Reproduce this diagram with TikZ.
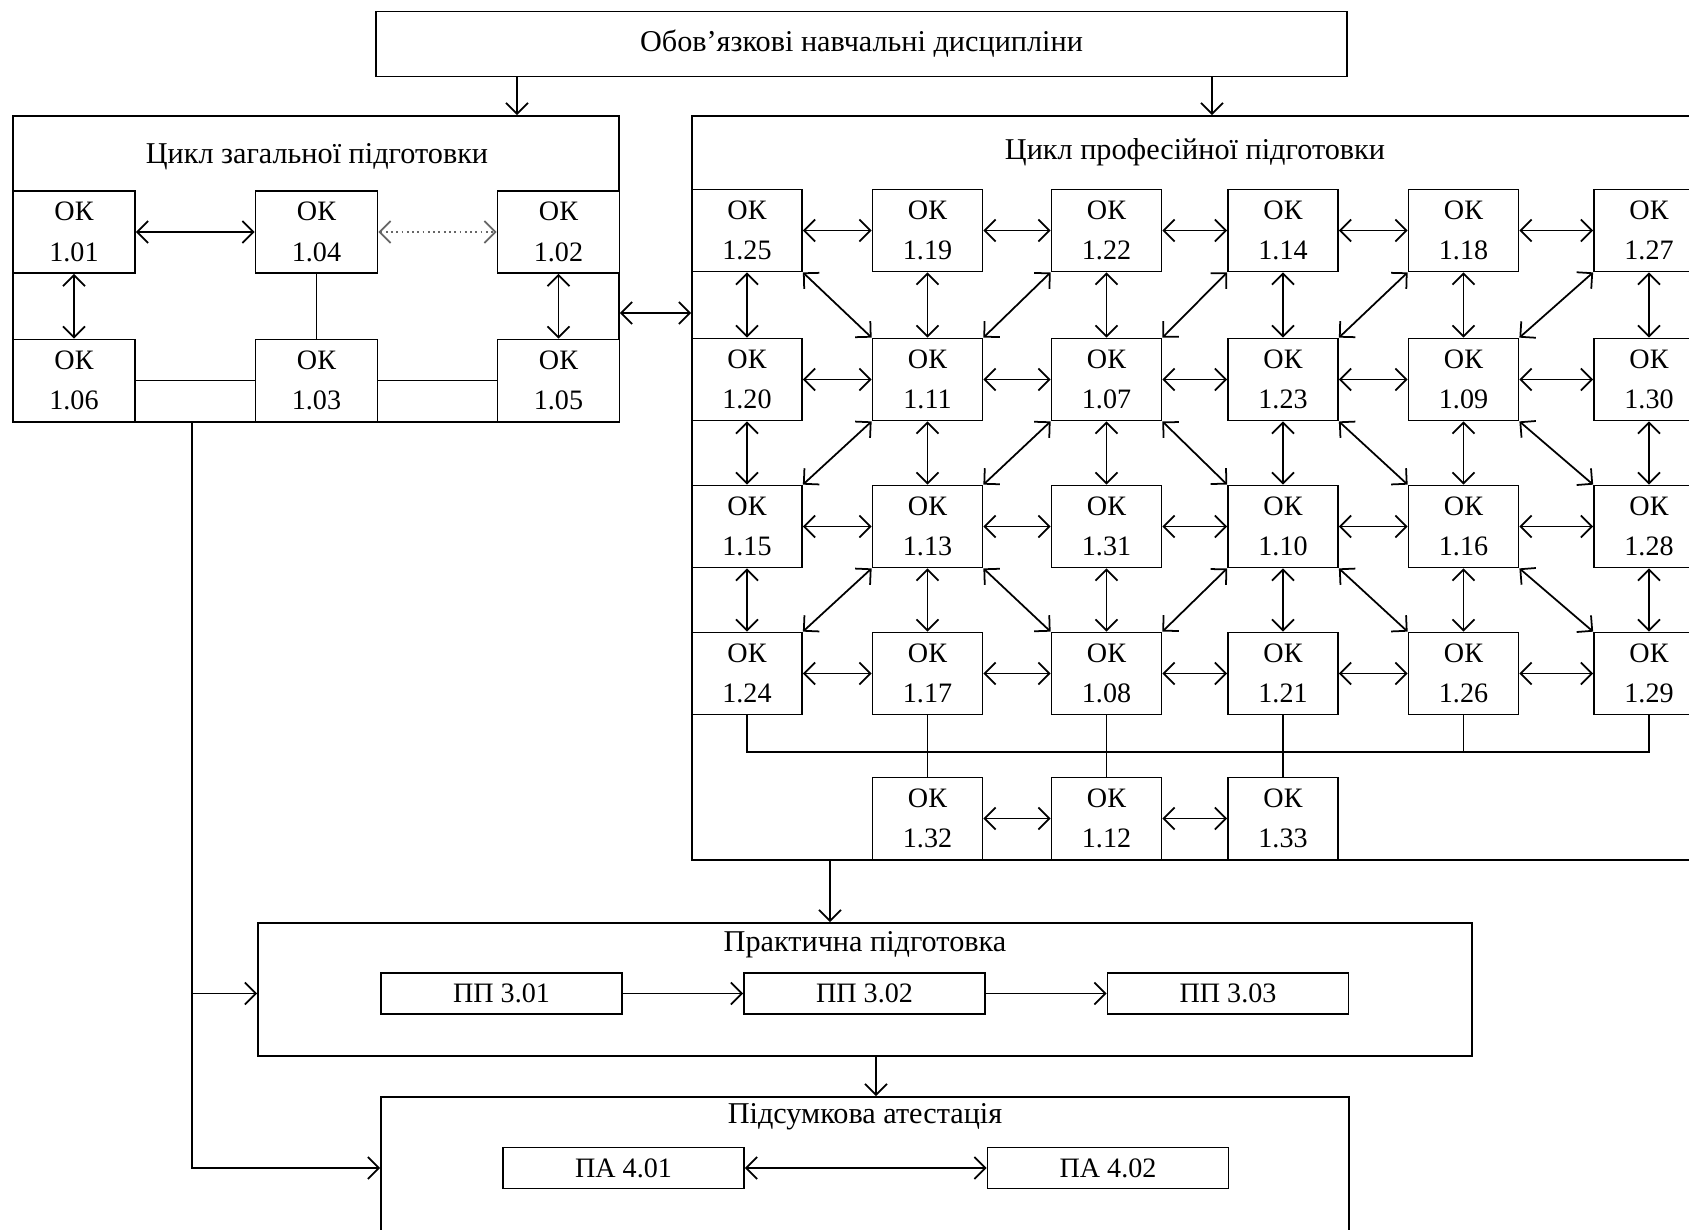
\documentclass[tikz,border=0pt]{standalone}
\usepackage{fontspec}
\setmainfont{Liberation Serif}
\usetikzlibrary{arrows.meta}
\tikzset{
  frame/.style = {draw, inner sep=0pt},
  ok/.style    = {draw, fill=white, align=center, inner sep=0pt,
                  minimum width=11mm, minimum height=8.2mm},
  okl/.style   = {ok, minimum width=12.2mm},
  pp/.style    = {draw, fill=white, inner sep=0pt,
                  minimum width=24.1mm, minimum height=4.1mm},
  ttl/.style   = {inner sep=1pt, font=\fontsize{8.6}{10}\selectfont},
  e/.style     = {-{Straight Barb[length=1.1mm,width=2.2mm]}},
  ee/.style    = {{Straight Barb[length=1.1mm,width=2.2mm]}-{Straight Barb[length=1.1mm,width=2.2mm]}},
  dots/.style  = {ee, densely dotted, black!60}
}
\begin{document}
\begin{tikzpicture}[x=1cm,y=-1cm,line width=0.5pt,font=\fontsize{8}{11.5}\selectfont]
  \useasboundingbox (0,0) rectangle (16.89,12.29);
  % frames
  \node[frame, ttl, minimum width=97.1mm, minimum height=6.5mm] (oblig) at (8.615,0.44) {Обов’язкові навчальні дисципліни};
  \node[frame, minimum width=60.6mm, minimum height=30.6mm] (gen) at (3.16,2.69) {};
  \node[frame, minimum width=100.8mm, minimum height=74.4mm] (prof) at (11.96,4.88) {};
  \node[frame, minimum width=121.4mm, minimum height=13.3mm] (prac) at (8.65,9.895) {};
  \node[frame, minimum width=96.8mm, minimum height=16.3mm] (atest) at (8.65,11.785) {};
  \node[ttl] (gent) at (3.17,1.57) {Цикл загальної підготовки};
  \node[ttl] (proft) at (11.95,1.52) {Цикл професійної підготовки};
  \node[ttl] (pract) at (8.65,9.45) {Практична підготовка};
  \node[ttl] (atestt) at (8.65,11.17) {Підсумкова атестація};
  % general cycle
  \node[okl] (k101) at (0.74,2.32) {ОК\\1.01};
  \node[okl] (k104) at (3.165,2.32) {ОК\\1.04};
  \node[okl] (k102) at (5.585,2.32) {ОК\\1.02};
  \node[okl] (k106) at (0.74,3.805) {ОК\\1.06};
  \node[okl] (k103) at (3.165,3.805) {ОК\\1.03};
  \node[okl] (k105) at (5.585,3.805) {ОК\\1.05};
  % professional cycle
  \node[ok] (k125) at (7.47,2.305) {ОК\\1.25};
  \node[ok] (k119) at (9.275,2.305) {ОК\\1.19};
  \node[ok] (k122) at (11.065,2.305) {ОК\\1.22};
  \node[ok] (k114) at (12.83,2.305) {ОК\\1.14};
  \node[ok] (k118) at (14.635,2.305) {ОК\\1.18};
  \node[ok] (k127) at (16.49,2.305) {ОК\\1.27};
  \node[ok] (k120) at (7.47,3.795) {ОК\\1.20};
  \node[ok] (k111) at (9.275,3.795) {ОК\\1.11};
  \node[ok] (k107) at (11.065,3.795) {ОК\\1.07};
  \node[ok] (k123) at (12.83,3.795) {ОК\\1.23};
  \node[ok] (k109) at (14.635,3.795) {ОК\\1.09};
  \node[ok] (k130) at (16.49,3.795) {ОК\\1.30};
  \node[ok] (k115) at (7.47,5.265) {ОК\\1.15};
  \node[ok] (k113) at (9.275,5.265) {ОК\\1.13};
  \node[ok] (k131) at (11.065,5.265) {ОК\\1.31};
  \node[ok] (k110) at (12.83,5.265) {ОК\\1.10};
  \node[ok] (k116) at (14.635,5.265) {ОК\\1.16};
  \node[ok] (k128) at (16.49,5.265) {ОК\\1.28};
  \node[ok] (k124) at (7.47,6.735) {ОК\\1.24};
  \node[ok] (k117) at (9.275,6.735) {ОК\\1.17};
  \node[ok] (k108) at (11.065,6.735) {ОК\\1.08};
  \node[ok] (k121) at (12.83,6.735) {ОК\\1.21};
  \node[ok] (k126) at (14.635,6.735) {ОК\\1.26};
  \node[ok] (k129) at (16.49,6.735) {ОК\\1.29};
  \node[ok] (k132) at (9.275,8.185) {ОК\\1.32};
  \node[ok] (k112) at (11.065,8.185) {ОК\\1.12};
  \node[ok] (k133) at (12.83,8.185) {ОК\\1.33};
  % practice and attestation
  \node[pp] (pp301) at (5.015,9.935) {ПП 3.01};
  \node[pp] (pp302) at (8.645,9.935) {ПП 3.02};
  \node[pp] (pp303) at (12.28,9.935) {ПП 3.03};
  \node[pp] (pa401) at (6.235,11.68) {ПА 4.01};
  \node[pp] (pa402) at (11.08,11.68) {ПА 4.02};
  % helper points
  \coordinate (d1) at (5.17,0);
  \coordinate (d2) at (12.12,0);
  \coordinate (d3) at (8.30,0);
  \coordinate (d4) at (8.76,0);
  \coordinate (d5) at (1.92,0);
  \coordinate (bus) at (0,7.52);
  \coordinate (lnk) at ([yshift=-4.4mm]gen.east);
  % links between blocks
  \draw[e] (d1 |- oblig.south) -- (d1 |- gen.north);
  \draw[e] (d2 |- oblig.south) -- (d2 |- prof.north);
  \draw[ee] (lnk) -- (lnk -| prof.west);
  \draw[e] (d3 |- prof.south) -- (d3 |- prac.north);
  \draw[e] (d4 |- prac.south) -- (d4 |- atest.north);
  \draw[e] (d5 |- gen.south) -- (d5 |- pa401) -- (atest.west |- pa401);
  \draw[e] (d5 |- pp301) -- (prac.west |- pp301);
  % general cycle links
  \draw[ee] (k101) -- (k104); \draw[dots] (k104) -- (k102);
  \draw[ee] (k101) -- (k106); \draw[ee] (k102) -- (k105);
  \draw (k104) -- (k103); \draw (k106) -- (k103); \draw (k103) -- (k105);
  % rows
  \draw[ee] (k125) -- (k119); \draw[ee] (k119) -- (k122); \draw[ee] (k122) -- (k114);
  \draw[ee] (k114) -- (k118); \draw[ee] (k118) -- (k127);
  \draw[ee] (k120) -- (k111); \draw[ee] (k111) -- (k107); \draw[ee] (k107) -- (k123);
  \draw[ee] (k123) -- (k109); \draw[ee] (k109) -- (k130);
  \draw[ee] (k115) -- (k113); \draw[ee] (k113) -- (k131); \draw[ee] (k131) -- (k110);
  \draw[ee] (k110) -- (k116); \draw[ee] (k116) -- (k128);
  \draw[ee] (k124) -- (k117); \draw[ee] (k117) -- (k108); \draw[ee] (k108) -- (k121);
  \draw[ee] (k121) -- (k126); \draw[ee] (k126) -- (k129);
  \draw[ee] (k132) -- (k112); \draw[ee] (k112) -- (k133);
  % columns
  \draw[ee] (k125) -- (k120); \draw[ee] (k120) -- (k115); \draw[ee] (k115) -- (k124);
  \draw[ee] (k119) -- (k111); \draw[ee] (k111) -- (k113); \draw[ee] (k113) -- (k117);
  \draw[ee] (k122) -- (k107); \draw[ee] (k107) -- (k131); \draw[ee] (k131) -- (k108);
  \draw[ee] (k114) -- (k123); \draw[ee] (k123) -- (k110); \draw[ee] (k110) -- (k121);
  \draw[ee] (k118) -- (k109); \draw[ee] (k109) -- (k116); \draw[ee] (k116) -- (k126);
  \draw[ee] (k127) -- (k130); \draw[ee] (k130) -- (k128); \draw[ee] (k128) -- (k129);
  % diagonals
  \draw[ee] (k125.south east) -- (k111.north west); \draw[ee] (k122.south west) -- (k111.north east);
  \draw[ee] (k114.south west) -- (k107.north east); \draw[ee] (k118.south west) -- (k123.north east);
  \draw[ee] (k127.south west) -- (k109.north east);
  \draw[ee] (k111.south west) -- (k115.north east); \draw[ee] (k107.south west) -- (k113.north east);
  \draw[ee] (k107.south east) -- (k110.north west); \draw[ee] (k123.south east) -- (k116.north west);
  \draw[ee] (k109.south east) -- (k128.north west);
  \draw[ee] (k113.south west) -- (k124.north east); \draw[ee] (k113.south east) -- (k108.north west);
  \draw[ee] (k110.south west) -- (k108.north east); \draw[ee] (k110.south east) -- (k126.north west);
  \draw[ee] (k116.south east) -- (k129.north west);
  % bottom bus
  \draw (k124.south) -- (k124.south |- bus) -- (k129.south |- bus) -- (k129.south);
  \draw (k126.south) -- (k126.south |- bus);
  \draw (k117) -- (k132); \draw (k108) -- (k112); \draw (k121) -- (k133);
  % practice and attestation links
  \draw[e] (pp301) -- (pp302); \draw[e] (pp302) -- (pp303);
  \draw[ee] (pa401) -- (pa402);
\end{tikzpicture}
\end{document}
